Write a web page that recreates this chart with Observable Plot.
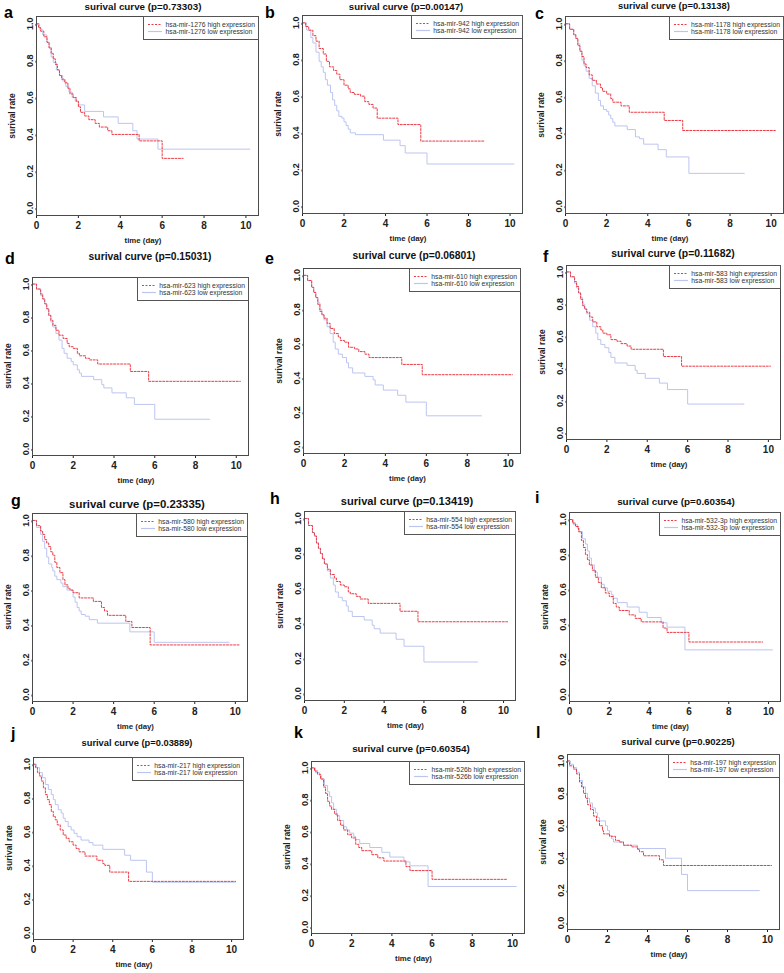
<!DOCTYPE html>
<html><head><meta charset="utf-8">
<script src="https://cdn.jsdelivr.net/npm/d3@7"></script>
<script src="https://cdn.jsdelivr.net/npm/@observablehq/plot@0.6"></script>
<style>
body{margin:0;background:#fff;}
#root{position:relative;width:784px;height:973px;overflow:hidden;background:#fff;font-family:Arial,"Liberation Sans",sans-serif;}
.abs{position:absolute;white-space:nowrap;}
.title{font-weight:bold;color:#111;transform:translate(-50%,-50%);}
.letter{font-weight:bold;font-size:16px;color:#000;transform:translate(0,-50%);}
.xlab{font-size:7.8px;font-weight:bold;color:#222;transform:translate(-50%,-50%);}
.ylab{font-size:8.5px;font-weight:bold;color:#222;transform:translate(-50%,-50%) rotate(-90deg);}
.legend{border:1px solid #555;background:#fff;padding:4px 3px 4px 4px;font-size:6.8px;color:#333;}
.legend .row{display:flex;align-items:center;height:7px;gap:3px;}
#root svg g[aria-label$="tick label"] text{font-weight:bold;}
</style></head>
<body><div id="root"></div>
<script>
// ---- data: Kaplan-Meier step points [time, survival] ----
const pValues = ["0.73303","0.00147","0.13138","0.15031","0.06801","0.11682","0.23335","0.13419","0.60354","0.03889","0.60354","0.90225"];
const mirNames = ["hsa-mir-1276","hsa-mir-942","hsa-mir-1178","hsa-mir-623","hsa-mir-610","hsa-mir-583","hsa-mir-580","hsa-mir-554","hsa-mir-532-3p","hsa-mir-217","hsa-mir-526b","hsa-mir-197"];
const panelLetters = ["a","b","c","d","e","f","g","h","i","j","k","l"];
const xTicks = [0,2,4,6,8,10];
const yTicks = [0,0.2,0.4,0.6,0.8,1.0];

const a_high = [[0,1],[0.1,0.98],[0.2,0.96],[0.35,0.93],[0.5,0.9],[0.6,0.87],[0.7,0.84],[0.8,0.81],[0.9,0.78],[1.0,0.75],[1.1,0.72],[1.2,0.70],[1.35,0.68],[1.5,0.65],[1.6,0.62],[1.75,0.60],[1.9,0.58],[2.0,0.55],[2.1,0.52],[2.3,0.50],[2.5,0.48],[2.8,0.46],[3.0,0.44],[3.4,0.42],[3.6,0.40],[4.9,0.365],[6.0,0.27],[7.0,0.27]];
const a_low = [[0,1],[0.15,0.97],[0.3,0.94],[0.5,0.90],[0.6,0.87],[0.7,0.82],[0.8,0.79],[0.95,0.75],[1.1,0.72],[1.25,0.69],[1.4,0.66],[1.55,0.63],[1.7,0.60],[1.85,0.58],[2.0,0.56],[2.3,0.525],[3.2,0.495],[3.9,0.46],[4.6,0.42],[4.8,0.375],[5.8,0.32],[10.2,0.32]];
const b_high = [[0,1],[0.15,0.98],[0.3,0.96],[0.5,0.93],[0.65,0.9],[0.8,0.86],[1.0,0.83],[1.15,0.79],[1.3,0.76],[1.5,0.74],[1.65,0.72],[1.8,0.69],[2.0,0.66],[2.2,0.64],[2.3,0.62],[2.5,0.61],[2.8,0.60],[3.0,0.57],[3.2,0.555],[3.4,0.535],[3.6,0.48],[4.6,0.445],[5.7,0.355],[8.8,0.355]];
const b_low = [[0,1],[0.2,0.96],[0.4,0.92],[0.5,0.89],[0.65,0.84],[0.8,0.79],[0.9,0.76],[1.0,0.73],[1.1,0.69],[1.2,0.66],[1.35,0.62],[1.45,0.58],[1.55,0.55],[1.65,0.52],[1.75,0.49],[1.9,0.48],[2.0,0.46],[2.1,0.44],[2.2,0.42],[2.3,0.40],[2.55,0.39],[3.9,0.36],[4.7,0.33],[4.95,0.29],[6.0,0.23],[10.2,0.23]];
const c_high = [[0,1],[0.2,0.97],[0.4,0.94],[0.5,0.92],[0.6,0.88],[0.7,0.85],[0.8,0.82],[0.9,0.78],[1.0,0.76],[1.15,0.72],[1.3,0.69],[1.5,0.67],[1.7,0.65],[1.8,0.63],[2.0,0.615],[2.2,0.59],[2.3,0.57],[2.7,0.55],[3.1,0.515],[4.8,0.47],[5.7,0.415],[10.2,0.415]];
const c_low = [[0,1],[0.2,0.97],[0.4,0.94],[0.5,0.92],[0.6,0.89],[0.7,0.85],[0.8,0.80],[0.9,0.77],[1.0,0.74],[1.15,0.70],[1.3,0.66],[1.45,0.62],[1.6,0.58],[1.7,0.55],[1.85,0.53],[2.0,0.52],[2.1,0.50],[2.2,0.48],[2.3,0.46],[2.4,0.44],[3.0,0.42],[3.4,0.38],[3.6,0.37],[3.8,0.34],[4.5,0.31],[4.9,0.27],[6.0,0.18],[8.7,0.18]];
const d_high = [[0,1],[0.2,0.97],[0.4,0.94],[0.5,0.91],[0.6,0.88],[0.7,0.85],[0.8,0.81],[0.9,0.78],[1.0,0.75],[1.15,0.72],[1.3,0.69],[1.5,0.67],[1.7,0.64],[1.8,0.62],[2.0,0.61],[2.2,0.58],[2.3,0.565],[2.6,0.55],[2.8,0.54],[3.2,0.515],[4.8,0.47],[5.7,0.41],[10.2,0.41]];
const d_low = [[0,1],[0.2,0.97],[0.4,0.93],[0.5,0.91],[0.6,0.88],[0.7,0.85],[0.8,0.81],[0.9,0.77],[1.0,0.74],[1.15,0.70],[1.3,0.66],[1.45,0.61],[1.55,0.58],[1.7,0.55],[1.9,0.53],[2.0,0.51],[2.2,0.48],[2.3,0.46],[2.4,0.44],[3.0,0.42],[3.4,0.39],[3.5,0.37],[3.9,0.34],[4.6,0.31],[5.0,0.27],[6.0,0.18],[8.7,0.18]];
const e_high = [[0,1],[0.2,0.97],[0.4,0.93],[0.5,0.90],[0.6,0.87],[0.7,0.83],[0.8,0.79],[0.9,0.77],[1.0,0.75],[1.15,0.72],[1.3,0.69],[1.5,0.66],[1.7,0.64],[1.8,0.62],[2.0,0.61],[2.2,0.58],[2.5,0.57],[2.7,0.555],[3.0,0.54],[3.2,0.52],[4.8,0.48],[5.8,0.42],[10.2,0.42]];
const e_low = [[0,1],[0.2,0.97],[0.4,0.93],[0.5,0.90],[0.6,0.87],[0.7,0.84],[0.8,0.80],[0.9,0.77],[1.0,0.74],[1.15,0.70],[1.3,0.66],[1.45,0.61],[1.55,0.57],[1.7,0.54],[1.9,0.52],[2.1,0.49],[2.2,0.46],[2.4,0.43],[3.0,0.41],[3.4,0.39],[3.5,0.36],[3.9,0.33],[4.6,0.30],[5.0,0.26],[6.0,0.18],[8.7,0.18]];
const f_high = [[0,1],[0.2,0.97],[0.4,0.94],[0.5,0.91],[0.6,0.87],[0.7,0.83],[0.8,0.79],[0.9,0.77],[1.0,0.75],[1.15,0.72],[1.3,0.69],[1.5,0.66],[1.7,0.64],[1.8,0.62],[2.0,0.61],[2.2,0.58],[2.5,0.57],[2.7,0.555],[3.0,0.54],[3.2,0.52],[4.8,0.475],[5.7,0.415],[10.1,0.415]];
const f_low = [[0,1],[0.2,0.97],[0.4,0.93],[0.5,0.90],[0.6,0.87],[0.7,0.84],[0.8,0.80],[0.9,0.77],[1.0,0.74],[1.15,0.70],[1.3,0.66],[1.45,0.62],[1.55,0.58],[1.7,0.55],[1.9,0.53],[2.1,0.50],[2.2,0.47],[2.4,0.435],[3.0,0.42],[3.4,0.39],[3.5,0.37],[3.9,0.34],[4.6,0.31],[5.0,0.27],[6.0,0.18],[8.8,0.18]];
const g_high = [[0,1],[0.2,0.97],[0.4,0.94],[0.5,0.92],[0.6,0.89],[0.7,0.87],[0.8,0.85],[0.9,0.82],[1.0,0.80],[1.1,0.76],[1.2,0.73],[1.35,0.70],[1.5,0.66],[1.6,0.63],[1.75,0.61],[1.85,0.60],[2.0,0.585],[2.3,0.555],[3.0,0.535],[3.4,0.50],[3.55,0.48],[3.7,0.455],[4.6,0.42],[4.9,0.385],[5.8,0.285],[10.2,0.285]];
const g_low = [[0,1],[0.2,0.96],[0.4,0.92],[0.5,0.88],[0.6,0.84],[0.7,0.79],[0.8,0.75],[0.95,0.73],[1.0,0.71],[1.1,0.68],[1.2,0.66],[1.4,0.64],[1.5,0.62],[1.7,0.60],[2.0,0.56],[2.1,0.53],[2.2,0.50],[2.3,0.48],[2.4,0.46],[2.6,0.45],[2.8,0.43],[3.2,0.41],[4.8,0.36],[6.0,0.30],[9.7,0.30]];
const h_high = [[0,1],[0.2,0.96],[0.4,0.92],[0.5,0.90],[0.6,0.86],[0.7,0.83],[0.8,0.80],[0.9,0.77],[1.0,0.74],[1.15,0.71],[1.3,0.68],[1.5,0.66],[1.6,0.64],[1.8,0.62],[2.0,0.61],[2.2,0.58],[2.3,0.57],[2.6,0.555],[2.8,0.54],[3.2,0.515],[4.8,0.47],[5.7,0.41],[10.2,0.41]];
const h_low = [[0,1],[0.2,0.96],[0.4,0.92],[0.5,0.90],[0.6,0.86],[0.7,0.83],[0.8,0.80],[0.9,0.77],[1.0,0.74],[1.15,0.70],[1.3,0.66],[1.45,0.62],[1.55,0.58],[1.7,0.55],[1.9,0.53],[2.1,0.50],[2.2,0.47],[2.4,0.44],[3.0,0.42],[3.4,0.39],[3.5,0.37],[3.8,0.345],[4.6,0.31],[5.0,0.27],[6.0,0.18],[8.7,0.18]];
const i_high = [[0,1],[0.15,0.98],[0.3,0.96],[0.45,0.93],[0.6,0.88],[0.7,0.84],[0.8,0.80],[0.9,0.77],[1.0,0.74],[1.15,0.71],[1.3,0.67],[1.45,0.64],[1.6,0.61],[1.8,0.58],[2.0,0.56],[2.2,0.52],[2.35,0.50],[2.5,0.48],[3.0,0.455],[3.3,0.435],[3.6,0.415],[4.7,0.38],[4.9,0.355],[6.0,0.30],[9.7,0.30]];
const i_low = [[0,1],[0.2,0.97],[0.4,0.95],[0.5,0.93],[0.65,0.89],[0.8,0.86],[0.9,0.82],[1.0,0.78],[1.1,0.74],[1.25,0.70],[1.4,0.67],[1.6,0.63],[1.75,0.61],[1.9,0.59],[2.1,0.57],[2.2,0.55],[2.4,0.525],[2.9,0.50],[3.5,0.47],[3.9,0.44],[4.6,0.41],[4.9,0.385],[5.8,0.255],[10.2,0.255]];
const j_high = [[0,1],[0.1,0.98],[0.2,0.95],[0.3,0.93],[0.4,0.90],[0.5,0.86],[0.6,0.82],[0.7,0.79],[0.8,0.76],[0.9,0.72],[1.0,0.69],[1.1,0.67],[1.2,0.64],[1.35,0.61],[1.5,0.58],[1.65,0.56],[1.8,0.54],[2.0,0.52],[2.15,0.50],[2.3,0.48],[2.6,0.455],[3.2,0.43],[3.5,0.41],[3.6,0.40],[3.85,0.36],[4.8,0.305],[10.2,0.305]];
const j_low = [[0,1],[0.15,0.98],[0.3,0.95],[0.45,0.92],[0.6,0.88],[0.75,0.85],[0.9,0.82],[1.0,0.79],[1.1,0.76],[1.25,0.73],[1.4,0.71],[1.5,0.68],[1.6,0.66],[1.75,0.63],[1.9,0.61],[2.05,0.59],[2.2,0.57],[2.4,0.55],[2.8,0.535],[3.0,0.52],[3.5,0.495],[4.6,0.46],[4.9,0.43],[5.7,0.36],[6.0,0.30],[10.2,0.30]];
const k_high = [[0,1],[0.15,0.98],[0.3,0.96],[0.45,0.93],[0.6,0.88],[0.7,0.84],[0.8,0.79],[0.9,0.76],[1.0,0.74],[1.15,0.71],[1.3,0.67],[1.45,0.64],[1.6,0.61],[1.8,0.58],[2.0,0.56],[2.2,0.52],[2.35,0.50],[2.5,0.48],[3.0,0.455],[3.3,0.435],[3.6,0.415],[4.7,0.38],[4.9,0.355],[6.0,0.30],[9.7,0.30]];
const k_low = [[0,1],[0.2,0.97],[0.4,0.95],[0.5,0.93],[0.65,0.89],[0.8,0.85],[0.9,0.82],[1.0,0.78],[1.1,0.74],[1.25,0.70],[1.4,0.67],[1.6,0.63],[1.75,0.61],[1.9,0.59],[2.1,0.57],[2.2,0.55],[2.4,0.525],[2.9,0.50],[3.5,0.47],[3.9,0.44],[4.6,0.41],[4.9,0.385],[5.8,0.255],[10.2,0.255]];
const l_high = [[0,1],[0.1,0.97],[0.3,0.95],[0.45,0.92],[0.6,0.87],[0.7,0.84],[0.8,0.80],[0.9,0.77],[1.0,0.73],[1.15,0.70],[1.3,0.66],[1.45,0.63],[1.6,0.60],[1.75,0.57],[1.8,0.55],[2.1,0.535],[2.4,0.51],[2.6,0.50],[2.8,0.48],[3.2,0.47],[3.5,0.455],[3.6,0.44],[3.8,0.415],[4.6,0.39],[4.8,0.355],[10.2,0.355]];
const l_low = [[0,1],[0.15,0.98],[0.3,0.96],[0.45,0.93],[0.6,0.88],[0.75,0.84],[0.9,0.80],[1.0,0.77],[1.1,0.74],[1.25,0.71],[1.4,0.68],[1.5,0.65],[1.6,0.63],[1.9,0.60],[2.0,0.57],[2.1,0.54],[2.2,0.52],[2.3,0.50],[2.8,0.48],[3.5,0.46],[4.9,0.40],[5.7,0.30],[6.0,0.20],[9.6,0.20]];

const highSeries = [a_high,b_high,c_high,d_high,e_high,f_high,g_high,h_high,i_high,j_high,k_high,l_high];
const lowSeries = [a_low,b_low,c_low,d_low,e_low,f_low,g_low,h_low,i_low,j_low,k_low,l_low];

// ---- layout (page pixels): plot box [left, top, right, bottom], title centre, title size, letter pos ----
const layout = [
  {box:[36,16,258,215], tx:143, ty:6,   ts:9.8,  lx:4,   ly:13},
  {box:[302,15,522,213], tx:406, ty:6,  ts:9.6,  lx:265, ly:13},
  {box:[565,16,783,213], tx:674, ty:5,  ts:9.4,  lx:535, ly:14},
  {box:[32,277,248,455], tx:150, ty:256, ts:10.3, lx:5,  ly:259},
  {box:[303,268,520,453], tx:414, ty:255, ts:10.3, lx:265, ly:259},
  {box:[566,265,780,439], tx:673, ty:253, ts:10.4, lx:543, ly:257},
  {box:[32,513,247,701], tx:137, ty:504, ts:11.4, lx:11, ly:501},
  {box:[304,511,515,700], tx:407, ty:501, ts:11.1, lx:270, ly:499},
  {box:[569,512,780,701], tx:676, ty:501, ts:9.9, lx:535, ly:498},
  {box:[33,757,243,939], tx:137, ty:743, ts:9.3, lx:11, ly:734},
  {box:[311,761,524,933], tx:411, ty:748, ts:9.9, lx:294, ly:733},
  {box:[567,754,779,929], tx:678, ty:741, ts:9.5, lx:536, ly:733}
];

const RED = "#ec3b45", BLUE = "#bcc5f0";
const root = document.getElementById("root");
const toRows = arr => arr.map(([t, s]) => ({t, s}));

function addDiv(cls, text, css) {
  const d = document.createElement("div");
  d.className = "abs " + cls;
  d.textContent = text;
  Object.assign(d.style, css);
  root.appendChild(d);
  return d;
}

layout.forEach((L, k) => {
  const [x0, y0, x1, y1] = L.box;
  const ML = 16, MR = 1, MT = 1, MB = 22;
  const svg = Plot.plot({
    width: x1 - x0 + ML + MR,
    height: y1 - y0 + MT + MB,
    marginLeft: ML, marginRight: MR, marginTop: MT, marginBottom: MB,
    x: {domain: [0, 10.6]},
    y: {domain: [-0.04, 1.04]},
    style: {fontFamily: "Arial, 'Liberation Sans', sans-serif", overflow: "visible", background: "transparent", color: "#222"},
    marks: [
      Plot.axisX({ticks: xTicks, tickSize: 3, tickPadding: 3, fontSize: 10, label: null}),
      Plot.axisY({ticks: yTicks, tickSize: 2, tickPadding: 4, tickFormat: d3.format(".1f"), rotate: -90, textAnchor: "middle", fontSize: 9, label: null}),
      Plot.line(toRows(lowSeries[k]), {x: "t", y: "s", curve: "step-after", stroke: BLUE, strokeWidth: 1}),
      Plot.line(toRows(highSeries[k]), {x: "t", y: "s", curve: "step-after", stroke: RED, strokeWidth: 1, strokeDasharray: "2,1.5"}),
      Plot.frame({stroke: "#4a4a4a", strokeWidth: 1})
    ]
  });
  svg.style.position = "absolute";
  svg.style.left = (x0 - ML) + "px";
  svg.style.top = (y0 - MT) + "px";
  root.appendChild(svg);

  addDiv("title", `surival curve (p=${pValues[k]})`, {left: L.tx + "px", top: L.ty + "px", fontSize: L.ts + "px"});
  addDiv("letter", panelLetters[k], {left: L.lx + "px", top: L.ly + "px"});
  addDiv("xlab", "time (day)", {left: ((x0 + x1) / 2 - 4) + "px", top: (y1 + 25) + "px"});
  addDiv("ylab", "surival rate", {left: (x0 - 24) + "px", top: ((y0 + y1) / 2) + "px"});

  const lg = document.createElement("div");
  lg.className = "abs legend";
  lg.style.right = (784 - x1 - 1) + "px";
  lg.style.top = y0 + "px";
  [["high", RED, "2,1.5"], ["low", BLUE, null]].forEach(([lvl, col, dash]) => {
    const row = document.createElement("div");
    row.className = "row";
    row.innerHTML = `<svg width="14" height="7" style="flex:none"><line x1="0" x2="14" y1="3.5" y2="3.5" stroke="${col}" stroke-width="1.2" ${dash ? `stroke-dasharray="${dash}"` : ""}/></svg>`;
    const sp = document.createElement("span");
    sp.textContent = `${mirNames[k]} ${lvl} expression`;
    row.appendChild(sp);
    lg.appendChild(row);
  });
  root.appendChild(lg);
});
</script></body></html>
